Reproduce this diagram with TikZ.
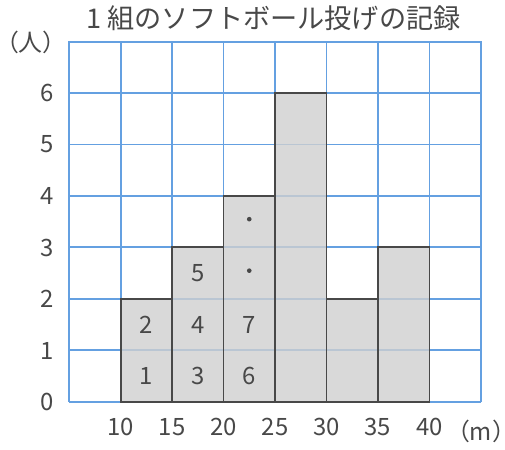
\documentclass[tikz,border=0pt]{standalone}
\usepackage{fontspec}
\setmainfont{Noto Sans CJK JP}
\usetikzlibrary{positioning,calc}
\definecolor{gridblue}{RGB}{100,160,225}
\definecolor{barfill}{RGB}{208,208,208}
\definecolor{inkgray}{RGB}{72,72,72}

\begin{document}
\begin{tikzpicture}[
  font=\fontsize{13.2}{15}\selectfont,
  text=inkgray,
  line width=1.1pt,
  gridline/.style={draw=gridblue, line width=1.1pt},
  bar/.style={fill=barfill, fill opacity=0.8, draw=none},
  baredge/.style={draw=inkgray, line width=1.1pt},
  tick/.style={inner sep=1pt},
  unit/.style={inner sep=0pt},
  count/.style={inner sep=1pt}
]
\useasboundingbox (-1.340,-0.913) rectangle (8.466,7.806);

\draw[gridline] (0,0) grid (8,7);

\foreach \x/\h in {1/2,2/3,3/4,4/6,5/2,6/3} {
  \fill[bar] (\x,0) rectangle (\x+1,\h);
  \draw[baredge] (\x,0) rectangle (\x+1,\h);
}
\draw[baredge] (1,0) -- (7,0);

\foreach \y in {0,...,6} {
  \node[tick] (y\y) at (-0.427,\y) {\y};
}
\node[unit] (unitp) at (-0.74,6.98) {\hspace*{-0.45em}（人）\hspace*{-0.45em}};

\foreach \m [count=\i from 1] in {10,15,20,25,30,35,40} {
  \node[tick] (x\i) at (\i,-0.485) {\m};
}
\node[unit] (unitm) at (8.0,-0.58) {\hspace*{-0.45em}（m）\hspace*{-0.45em}};

\node[font=\fontsize{15}{17}\selectfont] (title) at (3.97,7.456) {1 組のソフトボール投げの記録};

\node[count] (c1) at (1.5,0.5) {1};
\node[count] (c2) at (1.5,1.5) {2};
\node[count] (c3) at (2.5,0.5) {3};
\node[count] (c4) at (2.5,1.5) {4};
\node[count] (c5) at (2.5,2.5) {5};
\node[count] (c6) at (3.5,0.5) {6};
\node[count] (c7) at (3.5,1.5) {7};
\fill[inkgray] (3.5,2.55) circle (0.045);
\fill[inkgray] (3.5,3.55) circle (0.045);

\end{tikzpicture}
\end{document}
